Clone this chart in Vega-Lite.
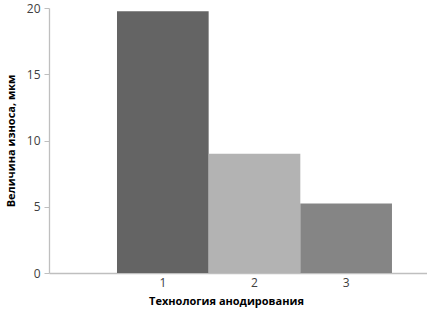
{
  "$schema": "https://vega.github.io/schema/vega-lite/v6.json",
  "width": 378,
  "height": 265,
  "autosize": "none",
  "padding": {"left": 49, "top": 8, "right": 0, "bottom": 40},
  "background": "white",
  "config": {"view": {"stroke": null}},
  "data": {"values": [
    {"tech": "1", "wear": 19.75},
    {"tech": "2", "wear": 9.0},
    {"tech": "3", "wear": 5.25}
  ]},
  "mark": {"type": "bar"},
  "encoding": {
    "x": {
      "field": "tech", "type": "nominal",
      "scale": {"paddingInner": 0, "paddingOuter": 0.562, "align": 0.66},
      "axis": {
        "title": "Технология анодирования",
        "titleFont": "Open Sans", "titleFontSize": 11, "titleFontWeight": "bold", "titleColor": "#000000",
        "titleX": 177, "titlePadding": 7,
        "labelAngle": 0, "labelFont": "Open Sans", "labelFontSize": 12, "labelColor": "#404040",
        "labelPadding": 4,
        "ticks": false, "domainColor": "#bfbfbf", "domainWidth": 1.3, "grid": false,
        "encode": {"labels": {"update": {"dx": {"signal": "datum.value == '1' ? 10 : datum.value == '2' ? 14 : 0"}, "dy": {"signal": "datum.value == '3' ? -3 : 0"}}}}
      }
    },
    "y": {
      "field": "wear", "type": "quantitative",
      "scale": {"domain": [0, 20]},
      "axis": {
        "title": "Величина износа, мкм",
        "titleFont": "Open Sans", "titleFontSize": 11, "titleFontWeight": "bold", "titleColor": "#000000",
        "titlePadding": 10,
        "values": [0, 5, 10, 15, 20],
        "labelFont": "Open Sans", "labelFontSize": 12, "labelColor": "#404040",
        "labelPadding": 4,
        "tickSize": 5, "tickColor": "#bfbfbf", "domainColor": "#bfbfbf", "domainWidth": 1.3,
        "grid": false
      }
    },
    "color": {
      "field": "tech", "type": "nominal",
      "scale": {"domain": ["1", "2", "3"], "range": ["#646464", "#b3b3b3", "#858585"]},
      "legend": null
    }
  }
}
